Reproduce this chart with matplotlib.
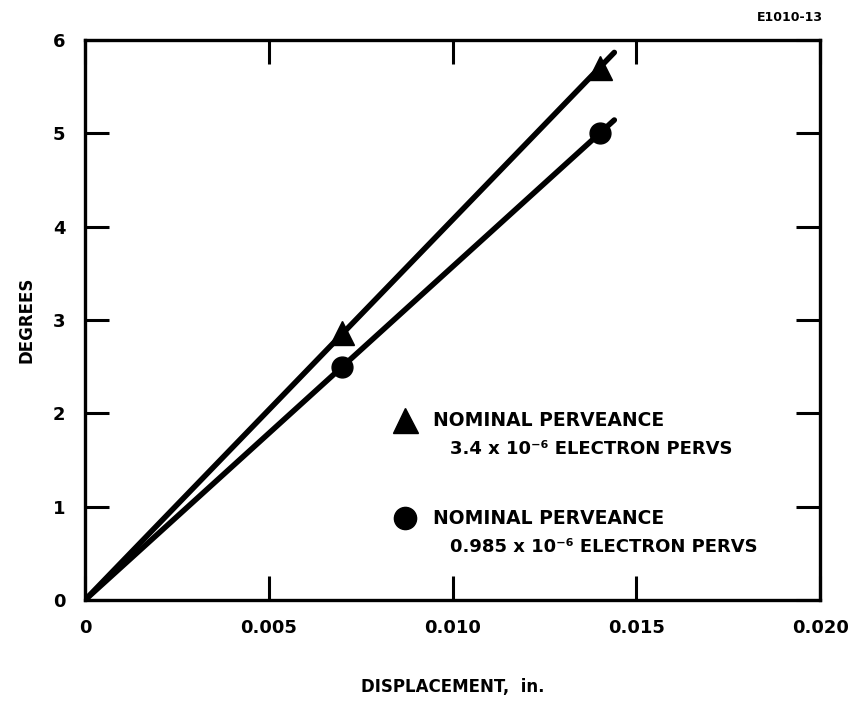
import matplotlib
matplotlib.use("Agg")
import matplotlib.pyplot as plt
import numpy as np

# Data
disp_in = [0.0, 0.007, 0.014]
deg_high_perv = [0.0, 2.86, 5.7]     # triangles, 3.4e-6 perv
deg_low_perv = [0.0, 2.5, 5.0]       # circles, 0.985e-6 perv
line_end_x = 0.0144                   # drawn lines run slightly past the last point

x_ticks = [0, 0.005, 0.010, 0.015, 0.020]
x_tick_labels = ["0", "0.005", "0.010", "0.015", "0.020"]
y_ticks = [0, 1, 2, 3, 4, 5, 6]
y_tick_labels = ["0", "1", "2", "3", "4", "5", "6"]

legend_high = ("NOMINAL PERVEANCE", "3.4 x 10\u207b\u2076 ELECTRON PERVS")
legend_low = ("NOMINAL PERVEANCE", "0.985 x 10\u207b\u2076 ELECTRON PERVS")

plt.rcParams['font.family'] = ['DejaVu Sans']
plt.rcParams['font.weight'] = 'bold'

fig = plt.figure(figsize=(8.57, 7.02), dpi=100)
ax = fig.add_axes([0.0992, 0.1453, 0.8578, 0.7977])

def fit_line(x, y):
    x = np.asarray(x); y = np.asarray(y)
    slope = np.sum(x * y) / np.sum(x * x)
    xs = np.array([0.0, line_end_x])
    return xs, slope * xs

for y, mk, ms in [(deg_high_perv, '^', 17), (deg_low_perv, 'o', 15)]:
    xs, ys = fit_line(disp_in, y)
    ax.plot(xs, ys, color='black', lw=4.0, solid_capstyle='round', zorder=2)
    ax.plot(disp_in[1:], y[1:], linestyle='none', marker=mk, ms=ms,
            color='black', zorder=3)

ax.set_xlim(0, 0.020)
ax.set_ylim(0, 6)
ax.set_xticks(x_ticks)
ax.set_xticklabels(x_tick_labels)
ax.set_yticks(y_ticks)
ax.set_yticklabels(y_tick_labels)
ax.tick_params(direction='in', length=17, width=2.2, top=True, right=True,
               labelsize=13, pad=14)
for lab in ax.get_xticklabels() + ax.get_yticklabels():
    lab.set_fontweight('bold')
for sp in ax.spines.values():
    sp.set_linewidth(2.4)

ax.set_xlabel("DISPLACEMENT,  in.", fontsize=12, fontweight='bold', labelpad=29)
ax.set_ylabel("DEGREES", fontsize=12, fontweight='bold', labelpad=13)

# Legend drawn manually
for (l1, l2), mk, ms, yy in [(legend_high, '^', 18, 0.321), (legend_low, 'o', 16, 0.146)]:
    ax.plot([0.435], [yy], marker=mk, ms=ms, color='black',
            transform=ax.transAxes, clip_on=False)
    ax.text(0.474, yy, l1, transform=ax.transAxes, fontsize=13.5,
            fontweight='bold', va='center', ha='left')
    ax.text(0.497, yy - 0.052, l2, transform=ax.transAxes, fontsize=13,
            fontweight='bold', va='center', ha='left')

fig.text(0.922, 0.975, "E1010-13", fontsize=9, fontweight='bold',
         ha='center', va='center')

fig.savefig("out.png", dpi=100)
